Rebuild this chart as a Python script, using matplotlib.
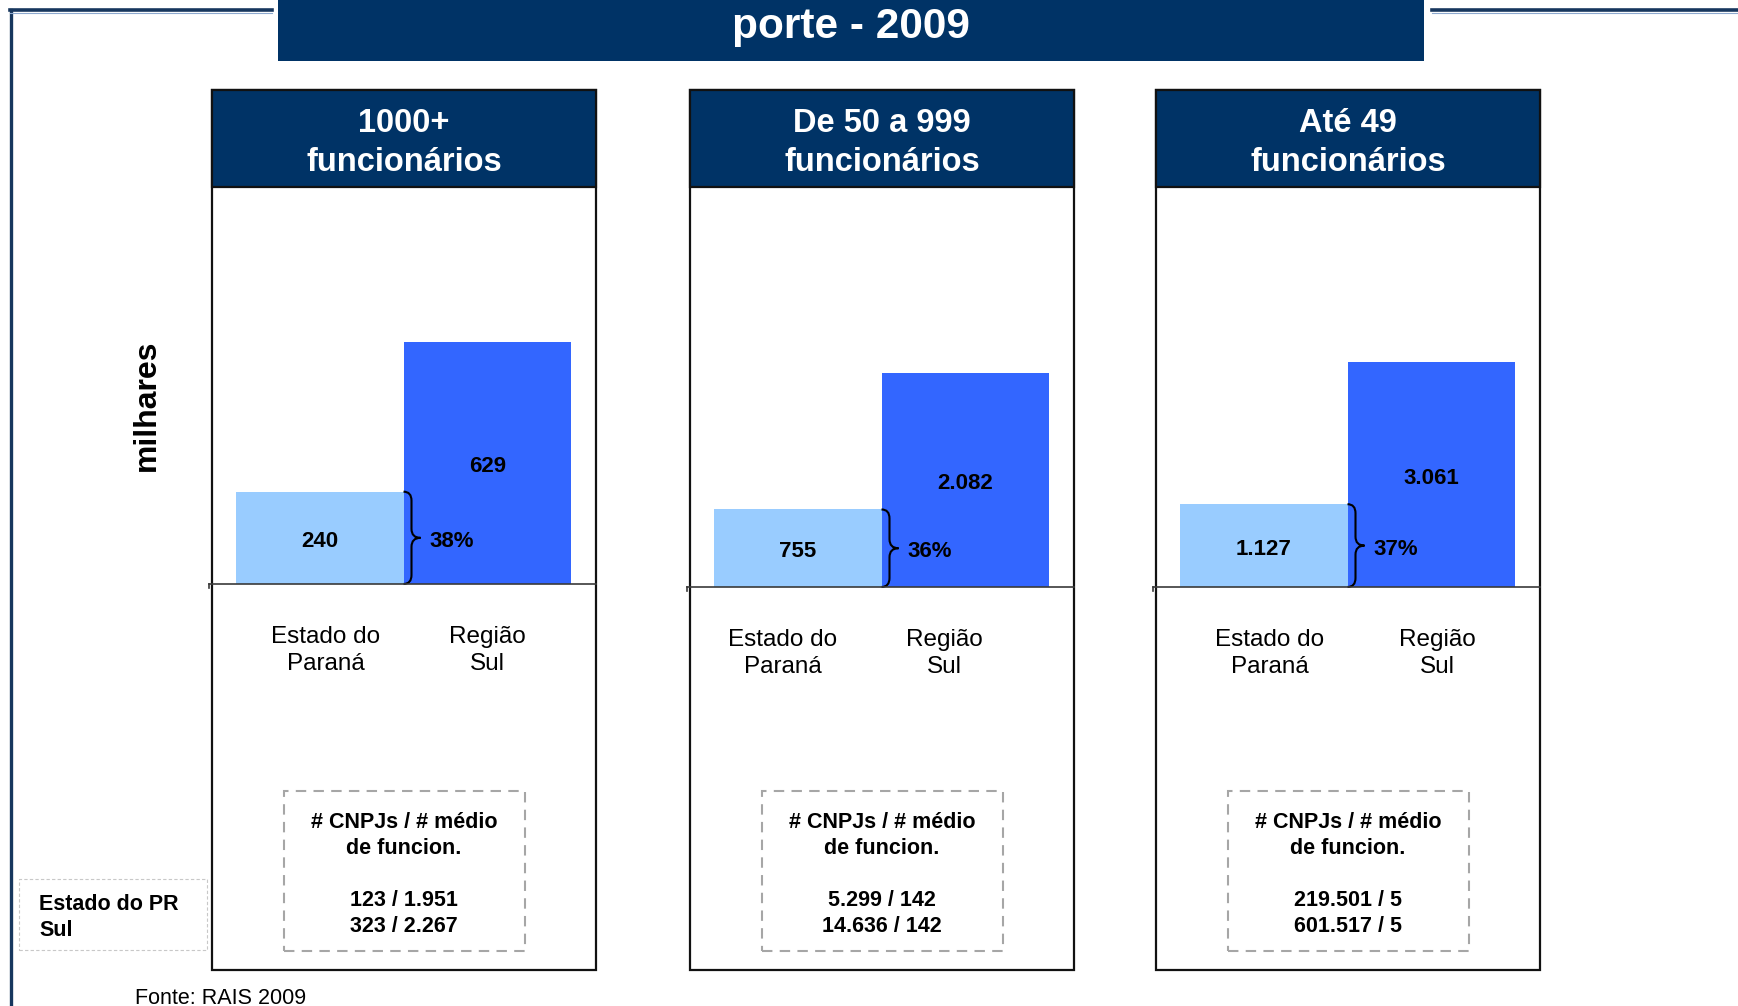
import matplotlib

matplotlib.use("Agg")
import matplotlib.pyplot as plt  # noqa: E402
from matplotlib.lines import Line2D  # noqa: E402
from matplotlib.patches import PathPatch, Rectangle  # noqa: E402
from matplotlib.path import Path  # noqa: E402

plt.rcParams["font.family"] = ["Liberation Sans", "DejaVu Sans"]

# data
title = "porte - 2009"
panel_titles = ["1000+\nfuncionários", "De 50 a 999\nfuncionários", "Até 49\nfuncionários"]
categories = ["Estado do\nParaná", "Região\nSul"]
parana = [240, 755, 1127]
sul = [629, 2082, 3061]
parana_labels = ["240", "755", "1.127"]
sul_labels = ["629", "2.082", "3.061"]
shares = ["38%", "36%", "37%"]
box_title = "# CNPJs / # médio\nde funcion."
cnpj_pr = ["123 / 1.951", "5.299 / 142", "219.501 / 5"]
cnpj_sul = ["323 / 2.267", "14.636 / 142", "601.517 / 5"]
legend_text = "Estado do PR\nSul"
y_label = "milhares"
source = "Fonte: RAIS 2009"

# layout (pixels of the 1738x1006 canvas)
W, H = 1738, 1006
panel_left = [212, 690, 1156]
panel_w = 384
baseline = [584, 587, 587]
y_tops = [1032, 3895, 5444]  # per-panel axis maximum
header_top, header_bot, panel_bot = 90, 187, 970
cat_dx = [[6, 0], [-15, -21], [6, 6]]  # label shift in px

NAVY = "#003366"
LIGHT = "#99CCFF"
DARK = "#3366FF"


def fx(px):
    return px / W


def fy(py):
    return 1 - py / H


def brace(ax, x0, h, ux, uy):
    a, t, r, m = 8 * ux, 17 * ux, 9 * uy, h / 2
    verts = [(x0, h), (x0 + a, h), (x0 + a, h - r),
             (x0 + a, m + r), (x0 + a, m), (x0 + t, m),
             (x0 + a, m), (x0 + a, m - r),
             (x0 + a, r), (x0 + a, 0), (x0, 0)]
    codes = [Path.MOVETO, Path.CURVE3, Path.CURVE3,
             Path.LINETO, Path.CURVE3, Path.CURVE3,
             Path.CURVE3, Path.CURVE3,
             Path.LINETO, Path.CURVE3, Path.CURVE3]
    ax.add_patch(PathPatch(Path(verts, codes), fill=False, lw=1.5,
                           edgecolor="black", clip_on=False))


def label(ax, x, y, s, ha="center"):
    ax.annotate(s, xy=(x, y), xycoords="data", xytext=(0, -2.5),
                textcoords="offset points", ha=ha, va="center",
                fontsize=16, fontweight="bold")


fig = plt.figure(figsize=(W / 100, H / 100), dpi=100)

# frame lines
fig.add_artist(Line2D([fx(11), fx(11)], [fy(10), fy(1006)], color="#17375E", lw=2.4))
for x0, x1 in ((10, 272), (1432, 1738)):
    fig.add_artist(Line2D([fx(x0), fx(x1)], [fy(10), fy(10)], color="#17375E", lw=2.6))
    fig.add_artist(Line2D([fx(x0), fx(x1)], [fy(12.5), fy(12.5)], color="#8DA9CF", lw=0.8))

# title bar
fig.add_artist(Rectangle((fx(278), fy(61)), (1424 - 278) / W, 61 / H,
                         transform=fig.transFigure, facecolor=NAVY, edgecolor="none"))
fig.text(fx(851), fy(38), title, color="white", fontsize=30.5, fontweight="bold",
         ha="center", va="baseline")

fig.text(fx(147), fy(405), y_label, rotation=90, fontsize=23, fontweight="bold",
         ha="center", va="center")

for i in range(3):
    left = panel_left[i]
    right = left + panel_w
    cx = left + panel_w / 2
    base = baseline[i]

    fig.add_artist(Rectangle((fx(left), fy(panel_bot)), panel_w / W, (panel_bot - header_top) / H,
                             transform=fig.transFigure, facecolor="white",
                             edgecolor="#111111", lw=1.6, zorder=0))
    fig.add_artist(Rectangle((fx(left), fy(header_bot)), panel_w / W, (header_bot - header_top) / H,
                             transform=fig.transFigure, facecolor=NAVY,
                             edgecolor="#111111", lw=1.6, zorder=1))
    fig.text(fx(cx), fy(171), panel_titles[i], color="white", fontsize=23.5,
             fontweight="bold", ha="center", va="baseline", linespacing=1.35, zorder=3)

    ax = fig.add_axes([fx(left + 24), fy(base), (panel_w - 49) / W, (base - header_bot) / H])
    ax.bar([0, 1], [parana[i], sul[i]], width=1.0, color=[LIGHT, DARK])
    ax.set_xlim(-0.5, 1.5)
    ax.set_ylim(0, y_tops[i])
    ax.axis("off")

    ux = 2 / (panel_w - 49)
    uy = y_tops[i] / (base - header_bot)
    label(ax, 0, parana[i] / 2, parana_labels[i])
    label(ax, 1, sul[i] / 2, sul_labels[i])
    label(ax, 0.5 + 26 * ux, parana[i] / 2, shares[i], ha="left")
    brace(ax, 0.5, parana[i], ux, uy)

    for j, cat in enumerate(categories):
        ax.annotate(cat, xy=(j, 0), xycoords="data",
                    xytext=(cat_dx[i][j] * 0.72, -62), textcoords="offset points",
                    ha="center", va="baseline", fontsize=17.5, linespacing=1.3,
                    annotation_clip=False)

    # baseline
    fig.add_artist(Line2D([fx(left - 3), fx(right)], [fy(base), fy(base)],
                          color="#3a3a3a", lw=1.2))
    fig.add_artist(Line2D([fx(left - 3), fx(left - 3)], [fy(base), fy(base + 4)],
                          color="#3a3a3a", lw=1.2))

    # dashed info box
    fig.add_artist(Rectangle((fx(cx - 120.5), fy(951)), 241 / W, 160 / H,
                             transform=fig.transFigure, fill=False,
                             edgecolor="#A6A6A6", lw=1.5, linestyle=(0, (5, 3.5))))
    fig.text(fx(cx), fy(854), box_title, fontsize=15.5, fontweight="bold",
             ha="center", va="baseline", linespacing=1.3)
    fig.text(fx(cx), fy(932), cnpj_pr[i] + "\n" + cnpj_sul[i], fontsize=15.5,
             fontweight="bold", ha="center", va="baseline", linespacing=1.3)

# legend box
fig.add_artist(Rectangle((fx(19), fy(950)), (207 - 19) / W, (950 - 879) / H,
                         transform=fig.transFigure, fill=False,
                         edgecolor="#C8C8C8", lw=0.8, linestyle=(0, (3, 2))))
fig.text(fx(39), fy(936), legend_text, fontsize=15.5, fontweight="bold",
         ha="left", va="baseline", linespacing=1.3)

fig.text(fx(135), fy(1004), source, fontsize=15.5, ha="left", va="baseline")

fig.savefig("out.png", dpi=100)
